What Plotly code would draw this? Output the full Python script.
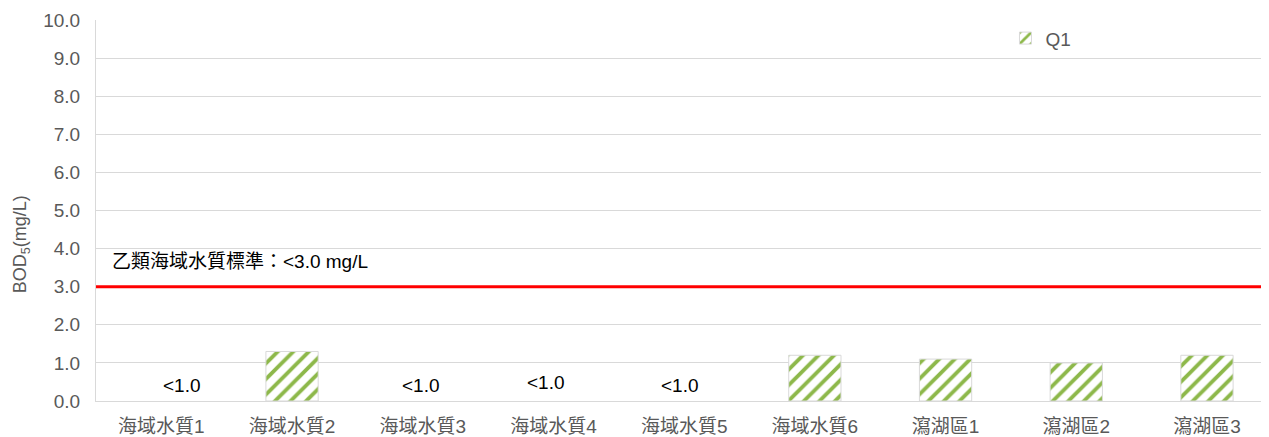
import plotly.graph_objects as go

categories = ["海域水質1", "海域水質2", "海域水質3", "海域水質4", "海域水質5",
              "海域水質6", "瀉湖區1", "瀉湖區2", "瀉湖區3"]
q1_values = [None, 1.3, None, None, None, 1.2, 1.1, 1.0, 1.2]
below_labels = ["<1.0", None, "<1.0", "<1.0", "<1.0", None, None, None, None]
below_label_y = [0.4, None, 0.4, 0.48, 0.4, None, None, None, None]
standard_value = 3.0
standard_text = "乙類海域水質標準：<3.0 mg/L"
y_ticks = [i * 1.0 for i in range(11)]

# label horizontal nudges (style only)
below_label_xshift = [21, 0, -2, -7, -4, 0, 0, 0, 0]

FONT = "Liberation Sans, Arial, Noto Sans CJK TC, sans-serif"

fig = go.Figure()
fig.add_trace(go.Bar(
    x=categories, y=q1_values, name="Q1",
    width=0.4,
    marker=dict(color="white",
                line=dict(color="#d9d9d9", width=1),
                pattern=dict(shape="/", fgcolor="#8DB84A", bgcolor="white",
                             fgopacity=1, fillmode="replace",
                             size=11, solidity=0.35)),
))

for c, t, yy, dx in zip(categories, below_labels, below_label_y, below_label_xshift):
    if t:
        fig.add_annotation(x=c, y=yy, text=t, showarrow=False, xshift=dx,
                           font=dict(size=19, color="black", family=FONT))

fig.add_shape(type="line", xref="paper", x0=0, x1=1, yref="y",
              y0=standard_value, y1=standard_value,
              line=dict(color="#FF0000", width=3))
fig.add_annotation(xref="paper", x=0.012, y=3.65, xanchor="left",
                   text=standard_text, showarrow=False,
                   font=dict(size=19, color="black", family=FONT))

# y axis title as rotated annotation
fig.add_annotation(xref="paper", x=-0.064, y=4.12, xanchor="center",
                   yanchor="middle", textangle=-90, showarrow=False,
                   text="BOD<sub>5</sub>(mg/L)",
                   font=dict(size=18, color="#595959", family=FONT))

fig.update_layout(
    width=1261, height=429,
    margin=dict(l=88, r=4, t=12, b=36, autoexpand=False),
    plot_bgcolor="white", paper_bgcolor="white",
    font=dict(family=FONT, color="#595959", size=19),
    showlegend=True,
    legend=dict(x=0.778, y=1.002, xanchor="left", yanchor="top",
                bgcolor="rgba(0,0,0,0)", font=dict(size=19, color="#595959"),
                itemwidth=30),
    xaxis=dict(showgrid=False, showline=True, linecolor="#d9d9d9",
               range=[-0.5, 8.444], ticks="", ticklabelstandoff=8,
               automargin=False,
               tickfont=dict(size=19, color="#595959")),
    yaxis=dict(range=[0, 10], tickvals=y_ticks,
               ticktext=[f"{v:.1f}" for v in y_ticks],
               showgrid=True, gridcolor="#d9d9d9", zeroline=False,
               showline=True, linecolor="#d9d9d9", ticks="",
               ticklabelstandoff=11, automargin=False,
               tickfont=dict(size=19, color="#595959")),
)

fig.write_html("out.html")
